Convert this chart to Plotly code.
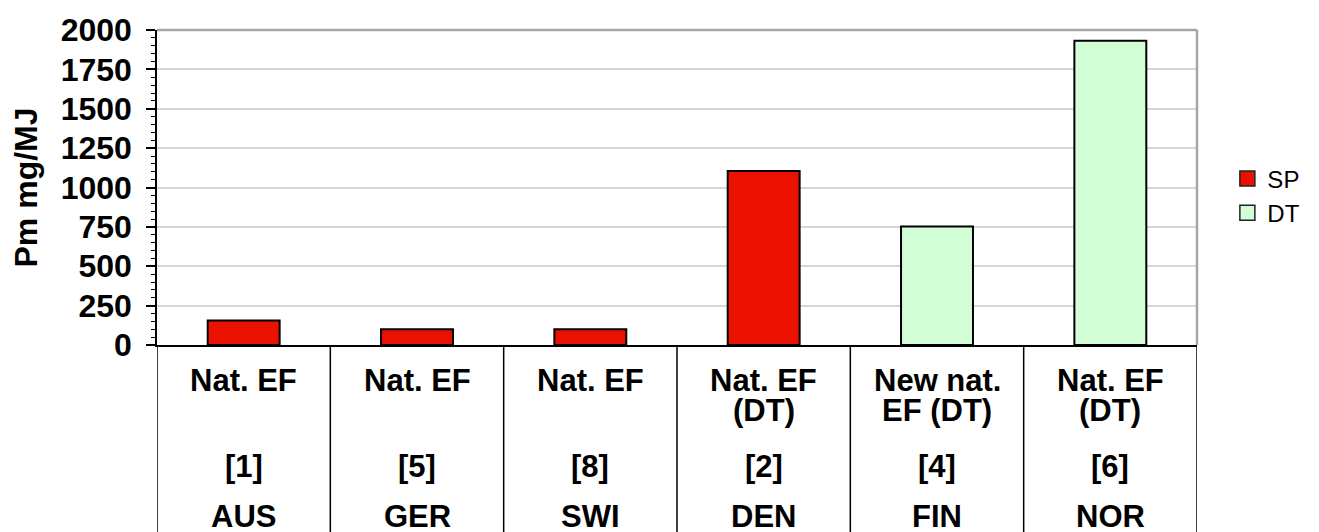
import plotly.graph_objects as go

countries = ["AUS", "GER", "SWI", "DEN", "FIN", "NOR"]
method_line1 = ["Nat. EF", "Nat. EF", "Nat. EF", "Nat. EF", "New nat.", "Nat. EF"]
method_line2 = ["", "", "", "(DT)", "EF (DT)", "(DT)"]
refs = ["[1]", "[5]", "[8]", "[2]", "[4]", "[6]"]
sp_values = [155, 100, 100, 1105, None, None]
dt_values = [None, None, None, None, 752, 1932]

# page body margin offset (the figure is drawn 8px in from the window corner)
OFF = 8
W, H = 1319 - OFF, 532 - OFF
ML = 157 - OFF
MT = 30 - OFF
MR = W - (1197 - OFF)
MB = H - (345 - OFF)
plot_h = H - MT - MB

RED = "#ea1100"
GREEN = "#d3fdd5"
FONT = "Liberation Sans, Arial, Helvetica, sans-serif"

xs = list(range(len(countries)))

fig = go.Figure()
fig.add_trace(go.Bar(x=xs, y=sp_values, name="SP", width=0.415, showlegend=False,
                     marker=dict(color=RED, line=dict(color="black", width=2))))
fig.add_trace(go.Bar(x=xs, y=dt_values, name="DT", width=0.415, showlegend=False,
                     marker=dict(color=GREEN, line=dict(color="black", width=2))))
# legend entries
for name, col in [("SP", RED), ("DT", GREEN)]:
    fig.add_trace(go.Scatter(x=[None], y=[None], mode="markers", name=name,
                             marker=dict(symbol="square", size=15, color=col,
                                         line=dict(color="#222", width=1.5))))


def py(p):
    """screen pixel row -> paper y"""
    return ((H - MB) - (p - OFF)) / plot_h


shapes = []
shapes.append(dict(type="line", xref="paper", yref="paper", x0=0, x1=1, y0=1, y1=1,
                   line=dict(color="#a6a6a6", width=2.5)))
shapes.append(dict(type="line", xref="paper", yref="paper", x0=1, x1=1, y0=0, y1=1,
                   line=dict(color="#a6a6a6", width=2.5)))
for i in range(len(countries) + 1):
    shapes.append(dict(type="line", xref="x", yref="paper", x0=i - 0.5, x1=i - 0.5,
                       y0=0, y1=py(540), line=dict(color="black", width=1.5)))

annotations = []
rows = [(method_line1, 380), (method_line2, 410), (refs, 466), (countries, 517)]
for labels, p in rows:
    for i, t in enumerate(labels):
        if not t:
            continue
        annotations.append(dict(x=i, y=py(p), xref="x", yref="paper", text=t,
                                showarrow=False, xanchor="center", yanchor="middle",
                                font=dict(family=FONT, size=31, color="black", weight="bold")))

fig.update_layout(
    width=W, height=H,
    margin=dict(l=ML, r=MR, t=MT, b=MB, pad=0, autoexpand=False),
    paper_bgcolor="white", plot_bgcolor="white",
    barmode="overlay",
    font=dict(family=FONT, color="black"),
    showlegend=True,
    legend=dict(x=1.0292, y=py(196), xanchor="left", yanchor="middle",
                font=dict(family=FONT, size=24, color="black"),
                bgcolor="rgba(0,0,0,0)", tracegroupgap=0),
    shapes=shapes,
    annotations=annotations,
    xaxis=dict(range=[-0.5, len(countries) - 0.5], showticklabels=False, ticks="",
               showgrid=False, zeroline=False, showline=True, linecolor="black", linewidth=1.5,
               automargin=False),
    yaxis=dict(range=[0, 2000], dtick=250, tick0=0, ticks="outside", ticklen=9,
               tickwidth=1.5, tickcolor="black", ticklabelstandoff=8, automargin=False,
               tickfont=dict(family=FONT, size=32, color="black", weight="bold"),
               showline=True, linecolor="black", linewidth=1.5,
               showgrid=True, gridcolor="#d6d6d6", gridwidth=1.5, zeroline=False,
               minor=dict(dtick=50, ticks="outside", ticklen=4, tickwidth=1,
                          tickcolor="black", showgrid=False),
               title=dict(text="Pm mg/MJ", standoff=15,
                          font=dict(family=FONT, size=32, color="black", weight="bold"))),
)

fig.write_html("out.html")
